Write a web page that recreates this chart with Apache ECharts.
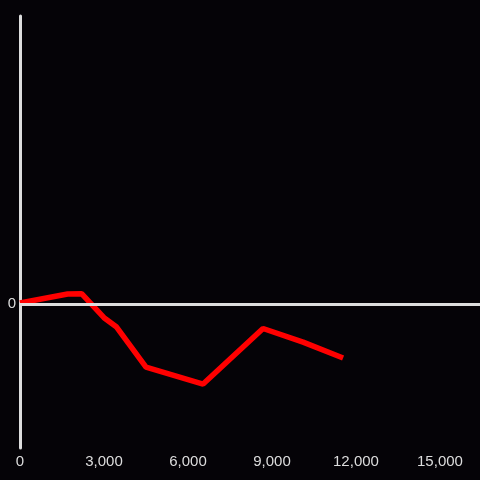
<!DOCTYPE html>
<html>
<head>
<meta charset="utf-8">
<script src="https://cdn.jsdelivr.net/npm/echarts@6/dist/echarts.min.js"></script>
<style>html,body{margin:0;padding:0;background:#050307;}#c{width:480px;height:480px;}</style>
</head>
<body>
<div id="c"></div>
<script>
var xValues = [0, 1700, 2200, 3000, 3450, 4500, 6540, 8680, 10110, 11540];
var yValues = [0.7, 6.9, 7.2, -9.5, -16, -43.8, -55.6, -17.0, -26.5, -37.5];
var xTickInterval = 3000;

var chart = echarts.init(document.getElementById('c'));
chart.setOption({
  backgroundColor: '#050307',
  animation: false,
  grid: {left: 20, right: 0, top: 16, bottom: 32, containLabel: false},
  xAxis: {
    type: 'value', min: 0, max: 16430, interval: xTickInterval,
    axisLine: {show: false},
    axisTick: {show: false},
    splitLine: {show: false},
    axisLabel: {color: '#dddddd', fontSize: 15, fontFamily: 'Liberation Sans', margin: 6, showMaxLabel: false,
      formatter: function(v){ return v.toLocaleString('en-US'); }}
  },
  yAxis: {
    type: 'value', min: -100, max: 200, interval: 100,
    axisLine: {show: true, lineStyle: {color: '#dddddd', width: 3}},
    axisTick: {show: false},
    splitLine: {show: false},
    axisLabel: {color: '#dddddd', fontSize: 15, fontFamily: 'Liberation Sans', margin: 4,
      formatter: function(v){ return v === 0 ? '0' : ''; }}
  },
  series: [{
    type: 'line',
    data: xValues.map(function(x, i){ return [x, yValues[i]]; }),
    symbol: 'none',
    lineStyle: {color: '#ff0000', width: 5.5},
    markLine: {
      silent: true, symbol: 'none', label: {show: false},
      lineStyle: {color: '#dddddd', width: 3, type: 'solid'},
      data: [{yAxis: 0}]
    },
    z: 3
  }]
});
</script>
</body>
</html>
